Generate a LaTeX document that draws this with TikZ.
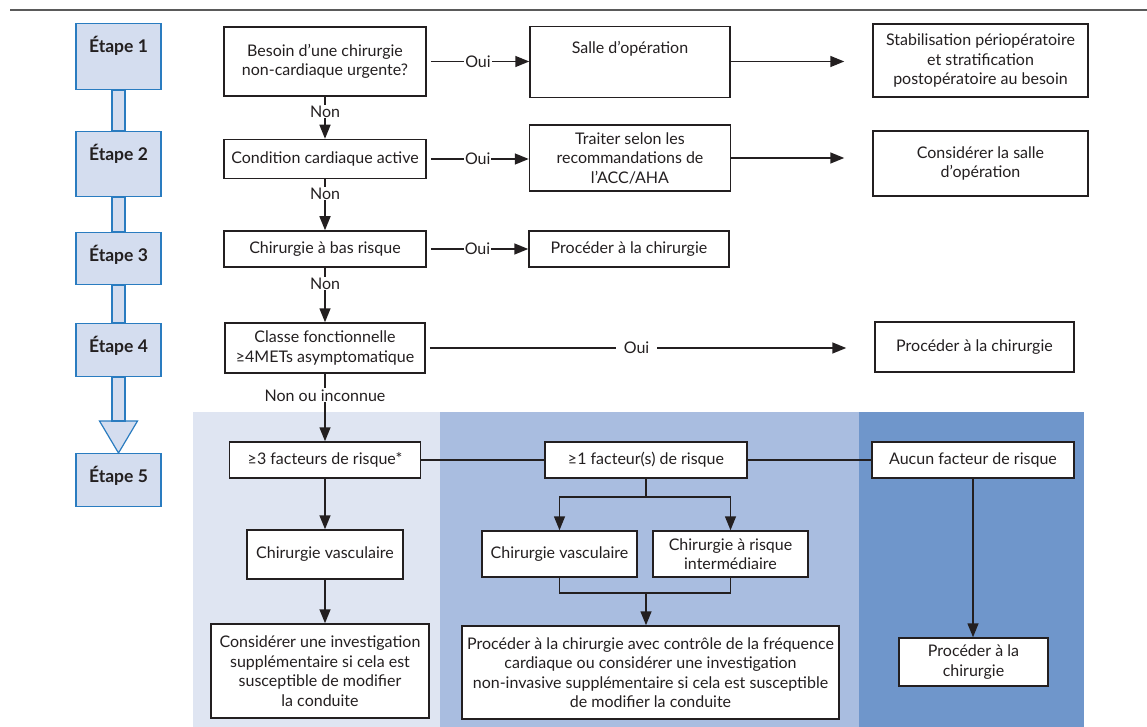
\documentclass[tikz,border=0pt]{standalone}
\usepackage{fontspec}
\setmainfont{Lato}
\usetikzlibrary{arrows.meta,positioning}
\definecolor{etapefill}{HTML}{D4DDEF}
\definecolor{etapeline}{HTML}{2A7CC0}
\definecolor{panelA}{HTML}{DFE5F2}
\definecolor{panelB}{HTML}{A9BDE0}
\definecolor{panelC}{HTML}{6F96CB}
\definecolor{rulegray}{HTML}{5A5A5A}
\definecolor{ink}{HTML}{231F20}
\tikzset{
  box/.style={draw=ink, line width=1.5pt, fill=white, text=ink, align=center, inner sep=2pt, font=\fontsize{16}{19.5}\selectfont},
  etape/.style={draw=etapeline, line width=1.2pt, fill=etapefill, text=ink, minimum width=85pt, inner sep=0pt, text height=29pt, anchor=north, font=\bfseries\fontsize{17.5}{18}\selectfont},
  stem/.style={draw=etapeline, line width=1.2pt, fill=etapefill},
  link/.style={draw=ink, line width=1.5pt},
  arr/.style={link, -{Triangle[length=14pt,width=11pt]}},
  lbl/.style={fill=white, text=ink, inner sep=1pt, font=\fontsize{16}{17}\selectfont}
}
\begin{document}
\begin{tikzpicture}[x=1pt, y=-1pt]
  \useasboundingbox (0,0) rectangle (1147,727);
  \draw[rulegray, line width=2pt] (10,10) -- (1147,10);
  \fill[panelA] (193,412) rectangle (440,727);
  \fill[panelB] (440,412) rectangle (859,727);
  \fill[panelC] (859,412) rectangle (1084,727);

  \foreach \n/\t/\b in {1/23/89, 2/131/196, 3/232/284, 4/323/376, 5/453/506}{
    \pgfmathsetmacro\dd{\b-\t-29}
    \node[etape, text depth=\dd pt] (e\n) at (118.5,\t) {Étape \n};
  }
  \foreach \a/\b in {1/2, 2/3, 3/4}{
    \filldraw[stem] ([xshift=-6.5pt]e\a.south) rectangle ([xshift=6.5pt]e\b.north);
  }
  \filldraw[stem] (99.5,421) -- (137.5,421) -- (e5.north) -- cycle;
  \filldraw[stem] ([xshift=-6.5pt]e4.south) rectangle (125,421);

  \node[box, minimum width=202pt, minimum height=69pt] (urg) at (325,61.5) {Besoin d’une chirurgie\\non-cardiaque urgente?};
  \node[box, minimum width=200pt, text height=25pt, text depth=42pt] (salle) at (630,62) {Salle d’opération};
  \node[box, minimum width=215pt, minimum height=73pt] (stab) at (980.5,60.5) {Stabilisation périopératoire\\et stratification\\postopératoire au besoin};

  \node[box, minimum width=202pt, minimum height=39pt] (cond) at (325,159) {Condition cardiaque active};
  \node[box, minimum width=201pt, minimum height=66pt] (traiter) at (630,158) {Traiter selon les\\recommandations de\\l’ACC/AHA};
  \node[box, minimum width=215pt, minimum height=65pt] (consid) at (980.5,163.5) {Considérer la salle\\d’opération};

  \node[box, minimum width=202pt, minimum height=36pt] (low) at (325,249) {Chirurgie à bas risque};
  \node[box, minimum width=200pt, minimum height=36pt] (proc3) at (629,249) {Procéder à la chirurgie};

  \node[box, minimum width=200pt, minimum height=50pt] (cfx) at (325,348) {Classe fonctionnelle\\≥4METs asymptomatique};
  \node[box, minimum width=199pt, minimum height=50pt] (proc4) at (974.5,347) {Procéder à la chirurgie};

  \node[box, minimum width=191pt, minimum height=36pt] (f3) at (325,460) {≥3 facteurs de risque*};
  \node[box, minimum width=202pt, minimum height=36pt] (f1) at (646,460) {≥1 facteur(s) de risque};
  \node[box, minimum width=202pt, minimum height=36pt] (none) at (973,460) {Aucun facteur de risque};

  \node[box, minimum width=156pt, minimum height=49pt] (cvl) at (325,554.5) {Chirurgie vasculaire};
  \node[box, minimum width=218pt, minimum height=94pt] (consl) at (320,671) {Considérer une investigation\\supplémentaire si cela est\\susceptible de modifier\\la conduite};

  \node[box, minimum width=155pt, minimum height=46pt] (cvm) at (559.5,554) {Chirurgie vasculaire};
  \node[box, minimum width=155pt, minimum height=46pt] (cri) at (730.5,554) {Chirurgie à risque\\intermédiaire};
  \node[box, minimum width=377pt, minimum height=93pt] (procm) at (650.5,672.5) {Procéder à la chirurgie avec contrôle de la fréquence\\cardiaque ou considérer une investigation\\non-invasive supplémentaire si cela est susceptible\\de modifier la conduite};

  \node[box, minimum width=149pt, minimum height=48pt] (procr) at (973.5,662) {Procéder à la\\chirurgie};

  \draw[arr, shorten <=4pt] (urg.east) -- node[lbl]{Oui} (urg.east -| salle.west);
  \draw[arr, shorten >=28pt] (salle.east |- urg.east) -- (stab.west |- urg.east);
  \draw[arr, shorten <=4pt] (cond.east) -- node[lbl]{Oui} (cond.east -| traiter.west);
  \draw[arr, shorten >=28pt] (traiter.east) -- (traiter.east -| consid.west);
  \draw[arr, shorten <=4pt] (low.east) -- node[lbl]{Oui} (low.east -| proc3.west);
  \draw[arr, shorten <=4pt, shorten >=28pt] (cfx.east) -- node[lbl, inner xsep=8pt, pos=0.47]{Oui} (cfx.east -| proc4.west);

  \draw[arr] (urg) -- node[lbl, pos=0.35]{Non} (cond);
  \draw[arr] (cond) -- node[lbl, pos=0.28]{Non} (low);
  \draw[arr] (low) -- node[lbl, pos=0.29]{Non} (cfx);
  \draw[arr] (cfx) -- node[lbl, pos=0.32]{Non ou inconnue} (f3);

  \draw[link] (f3) -- (f1);
  \draw[link] (f1) -- (none);
  \draw[arr] (f3) -- (cvl);
  \draw[arr] (cvl.south) -- (cvl.south |- consl.north);

  \draw[link] (f1.south) -- ++(0,18) coordinate (split);
  \draw[arr] (split) -| (cvm.north);
  \draw[arr] (split) -| (cri.north);
  \coordinate (join) at (646,593);
  \draw[link] (cvm.south) |- (join) -| (cri.south);
  \draw[arr] (join) -- (join |- procm.north);

  \draw[arr] (none.south) -- (none.south |- procr.north);
\end{tikzpicture}
\end{document}
